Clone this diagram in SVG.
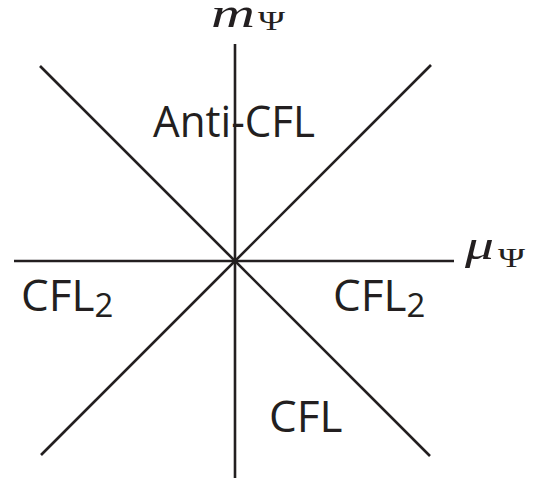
<svg xmlns="http://www.w3.org/2000/svg" width="544" height="478" viewBox="0 0 544 478">
<style>
.ax{stroke:#231f20;stroke-width:2.6;fill:none;stroke-linecap:butt}
.lbl{font-family:"Open Sans","Liberation Sans",sans-serif;font-size:44px;fill:#231f20}
.sub{font-family:"Open Sans","Liberation Sans",sans-serif;font-size:33px;fill:#231f20}
.mi{font-family:"Liberation Serif","DejaVu Serif",serif;font-style:italic;fill:#231f20}
.mu{font-family:"Liberation Serif","DejaVu Serif",serif;fill:#231f20}
</style>
<rect width="544" height="478" fill="#ffffff"/>
<g id="connectors">
<line class="ax" x1="235" y1="44" x2="235" y2="478"/>
<line class="ax" x1="14" y1="261" x2="454" y2="261"/>
<line class="ax" x1="40" y1="66" x2="430" y2="456"/>
<line class="ax" x1="431" y1="65" x2="41" y2="455"/>
</g>
<g id="axis-m">
<text class="mi" x="211" y="27" font-size="43" textLength="44" lengthAdjust="spacingAndGlyphs">m</text>
<text class="mu" x="258" y="30" font-size="28" textLength="27" lengthAdjust="spacingAndGlyphs">Ψ</text>
</g>
<g id="axis-mu">
<text class="mi" x="465" y="259" font-size="43" textLength="29" lengthAdjust="spacingAndGlyphs">μ</text>
<text class="mu" x="498" y="267" font-size="28" textLength="27" lengthAdjust="spacingAndGlyphs">Ψ</text>
</g>
<g id="anti-cfl">
<text class="lbl" x="153" y="137" textLength="162" lengthAdjust="spacingAndGlyphs">Anti-CFL</text>
</g>
<g id="cfl2-left">
<text class="lbl" x="21" y="311">CFL<tspan class="sub" dy="6">2</tspan></text>
</g>
<g id="cfl2-right">
<text class="lbl" x="333" y="311">CFL<tspan class="sub" dy="6">2</tspan></text>
</g>
<g id="cfl">
<text class="lbl" x="269" y="432">CFL</text>
</g>
</svg>
